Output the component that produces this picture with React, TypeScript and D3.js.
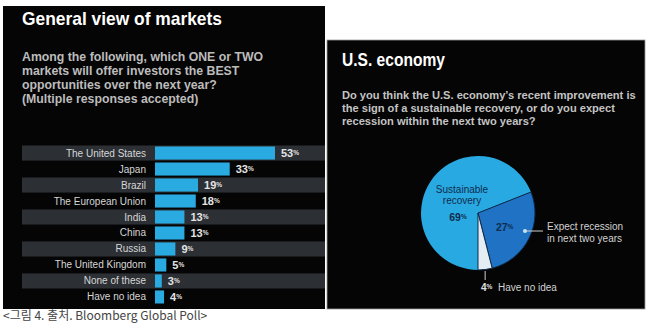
import React from "react";
import * as d3 from "d3";

const categories = [
  "The United States",
  "Japan",
  "Brazil",
  "The European Union",
  "India",
  "China",
  "Russia",
  "The United Kingdom",
  "None of these",
  "Have no idea",
];
const marketValues = [53, 33, 19, 18, 13, 13, 9, 5, 3, 4];

const pieLabels = ["Sustainable recovery", "Expect recession in next two years", "Have no idea"];
const pieValues = [69, 27, 4];

const leftTitle = "General view of markets";
const leftSubtitle = [
  "Among the following, which ONE or TWO",
  "markets will offer investors the BEST",
  "opportunities over the next year?",
  "(Multiple responses accepted)",
];
const rightTitle = "U.S. economy";
const rightSubtitle = [
  "Do you think the U.S. economy\u2019s recent improvement is",
  "the sign of a sustainable recovery, or do you expect",
  "recession within the next two years?",
];
const caption = "<그림 4. 출처. Bloomberg Global Poll>";

const SANS = "'Liberation Sans', Arial, sans-serif";

export default function App() {
  const x = d3.scaleLinear().domain([0, 53]).range([155, 275]);
  const y = d3.scaleBand<string>().domain(categories).range([146, 304]).paddingInner(0.12);

  const pie = d3
    .pie<number>()
    .sort(null)
    .startAngle(Math.PI)
    .endAngle(3 * Math.PI)(pieValues);
  const R = 57;
  const arc = d3.arc<d3.PieArcDatum<number>>().innerRadius(0).outerRadius(R);
  const pieColors = ["#29a9e1", "#1f72c4", "#e4edf3"];
  const cx = 478;
  const cy = 213;

  const c27 = d3.arc<d3.PieArcDatum<number>>().innerRadius(0).outerRadius(R * 1.05).centroid(pie[1]);
  const a4 = (pie[2].startAngle + pie[2].endAngle) / 2;
  const x4 = cx + Math.sin(a4) * R;

  return (
    <div style={{ position: "absolute", left: 0, top: 0 }}>
      <svg width={650} height={336} style={{ display: "block", background: "#fff" }}>
        {/* left panel */}
        <rect x={3} y={6} width={322} height={303} fill="#050505" />
        <text x={22} y={25} fill="#fff" fontFamily={SANS} fontWeight="bold" fontSize={19}
          textLength={200} lengthAdjust="spacingAndGlyphs">{leftTitle}</text>
        {leftSubtitle.map((t, i) => (
          <text key={i} x={22} y={61 + i * 14} fill="#bcbcbc" fontFamily={SANS} fontWeight="bold"
            fontSize={12.3}>{t}</text>
        ))}
        {categories.map((c, i) => {
          const yy = y(c)!;
          const h = y.bandwidth();
          return (
            <g key={c}>
              {i % 2 === 0 && <rect x={22} y={yy - 0.5} width={303} height={h + 1} fill="#2c3035" />}
              <text x={146} y={yy + h / 2 + 3.5} textAnchor="end" fill="#d6d6d6" fontFamily={SANS}
                fontSize={10}>{c}</text>
              <rect x={x(0)} y={yy + 0.5} width={x(marketValues[i]) - x(0)} height={h - 1} fill="#29abe2" />
              <text x={x(marketValues[i]) + 6} y={yy + h / 2 + 4} fill="#e4e4e4" fontFamily={SANS}
                fontWeight="bold" fontSize={11}>
                {marketValues[i]}
                <tspan fontSize={6.5} dy={-2}>%</tspan>
              </text>
            </g>
          );
        })}

        {/* right panel */}
        <rect x={327} y={40} width={318} height={269} fill="#050505" stroke="#9a9a9a" strokeWidth={0.8} />
        <text x={342} y={66} fill="#fff" fontFamily={SANS} fontWeight="bold" fontSize={17.5}
          textLength={103} lengthAdjust="spacingAndGlyphs">{rightTitle}</text>
        {rightSubtitle.map((t, i) => (
          <text key={i} x={342} y={99 + i * 13} fill="#c4c4c4" fontFamily={SANS} fontWeight="bold"
            fontSize={11.1}>{t}</text>
        ))}
        <g transform={`translate(${cx},${cy})`}>
          {pie.map((p, i) => (
            <path key={i} d={arc(p)!} fill={pieColors[i]} stroke="#0e2a4a" strokeWidth={i === 0 ? 0 : 1}
              strokeLinejoin="round" />
          ))}
        </g>
        <text x={462} y={193} textAnchor="middle" fill="#0f2c4e" fontFamily={SANS} fontSize={10}>Sustainable</text>
        <text x={462} y={204} textAnchor="middle" fill="#0f2c4e" fontFamily={SANS} fontSize={10}>recovery</text>
        <text x={458} y={221} textAnchor="middle" fill="#0f2c4e" fontFamily={SANS} fontWeight="bold" fontSize={10.5}>
          {pieValues[0]}<tspan fontSize={6.5} dy={-2}>%</tspan>
        </text>
        <text x={cx + c27[0]} y={cy + c27[1] + 4} textAnchor="middle" fill="#0f2c4e"
          fontFamily={SANS} fontWeight="bold" fontSize={10.5}>
          {pieValues[1]}<tspan fontSize={6.5} dy={-2}>%</tspan>
        </text>
        <circle cx={525} cy={231} r={2} fill="#cfe6f5" />
        <line x1={525} y1={231} x2={543} y2={231} stroke="#cfcfcf" strokeWidth={1} />
        <text x={547} y={230} fill="#d2d2d2" fontFamily={SANS} fontSize={10}>Expect recession</text>
        <text x={547} y={242} fill="#d2d2d2" fontFamily={SANS} fontSize={10}>in next two years</text>
        <line x1={x4} y1={cy + R + 1} x2={x4} y2={cy + R + 10} stroke="#cfcfcf" strokeWidth={1} />
        <text x={481} y={291} fill="#e0e0e0" fontFamily={SANS} fontWeight="bold" fontSize={10}>
          {pieValues[2]}<tspan fontSize={6.5} dy={-2}>%</tspan>
        </text>
        <text x={498} y={291} fill="#d2d2d2" fontFamily={SANS} fontSize={10}>Have no idea</text>

        <text x={3} y={320} fill="#444" fontFamily="'Noto Sans CJK KR', sans-serif" fontSize={12}>{caption}</text>
      </svg>
    </div>
  );
}
